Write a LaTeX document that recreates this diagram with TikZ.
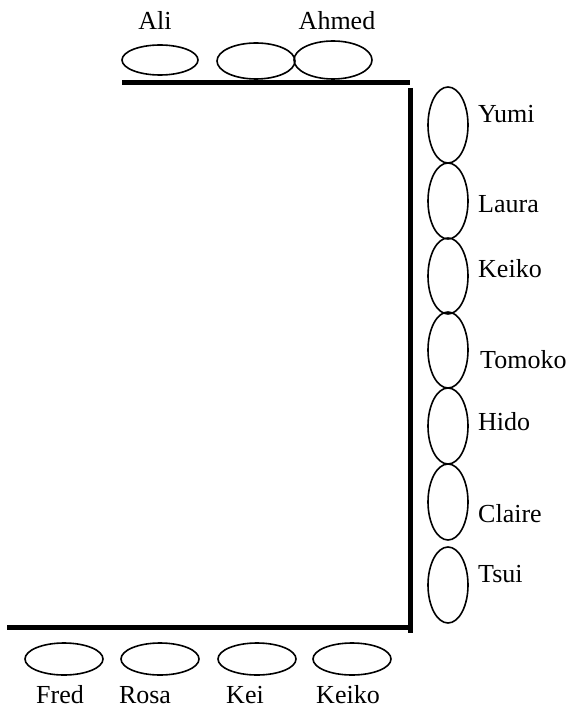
\documentclass[tikz,border=0pt]{standalone}
\usepackage{fontspec}
\setmainfont{Liberation Serif}
\usepackage{tikz}
\usetikzlibrary{shapes.geometric, positioning}

\begin{document}
\begin{tikzpicture}[
          x=1pt, y=-1pt,
          seat/.style={ellipse, draw, line width=1.6pt, inner sep=0pt},
          hseat/.style={seat, minimum width=78pt, minimum height=32pt},
          vseat/.style={seat, minimum width=40pt, minimum height=76pt},
          nametag/.style={font=\fontsize{26}{30}\selectfont, inner sep=0pt, anchor=base},
          rnametag/.style={nametag, anchor=base west},
          wall/.style={line width=5pt}
        ]
          \useasboundingbox (0,0) rectangle (571,708);
          % walls
          \coordinate (tl) at (122,83);
          \coordinate (tr) at (410,83);
          \coordinate (rt) at (410,88);
          \coordinate (rb) at (410,633);
          \coordinate (bl) at (7,627);
          \coordinate (br) at (410,627);
          \draw[wall] (tl) -- (tr);
          \draw[wall] (rt) -- (rb);
          \draw[wall] (bl) -- (br);

          % top row
          \node[hseat, minimum width=76pt, minimum height=30pt] (ali) at (160,60) {};
          \node[hseat, minimum height=36pt] (mid) at (256,61) {};
          \node[hseat, minimum height=38pt] (ahmed) at (333,60) {};
          \node[nametag] (aliL) at (155,30) {Ali};
          \node[nametag] (ahmedL) at (337,30) {Ahmed};

          % right column
          \node[vseat] (yumi) at (448,125) {};
          \node[vseat] (laura) at (448,201) {};
          \node[vseat] (keiko) at (448,276) {};
          \node[vseat] (tomoko) at (448,350) {};
          \node[vseat] (hido) at (448,426) {};
          \node[vseat] (claire) at (448,502) {};
          \node[vseat] (tsui) at (448,585) {};
          \node[rnametag] (yumiL) at (478,123) {Yumi};
          \node[rnametag] (lauraL) at (478,213) {Laura};
          \node[rnametag] (keikoL) at (478,277) {Keiko};
          \node[rnametag] (tomokoL) at (480,368) {Tomoko};
          \node[rnametag] (hidoL) at (478,430) {Hido};
          \node[rnametag] (claireL) at (478,522) {Claire};
          \node[rnametag] (tsuiL) at (478,582) {Tsui};

          % bottom row
          \node[hseat] (fred) at (64,659) {};
          \node[hseat] (rosa) at (160,659) {};
          \node[hseat] (kei) at (257,659) {};
          \node[hseat] (keikob) at (352,659) {};
          \node[nametag] (fredL) at (60,703) {Fred};
          \node[nametag] (rosaL) at (145,703) {Rosa};
          \node[nametag] (keiL) at (245,703) {Kei};
          \node[nametag] (keikobL) at (348,703) {Keiko};
        \end{tikzpicture}
\end{document}
